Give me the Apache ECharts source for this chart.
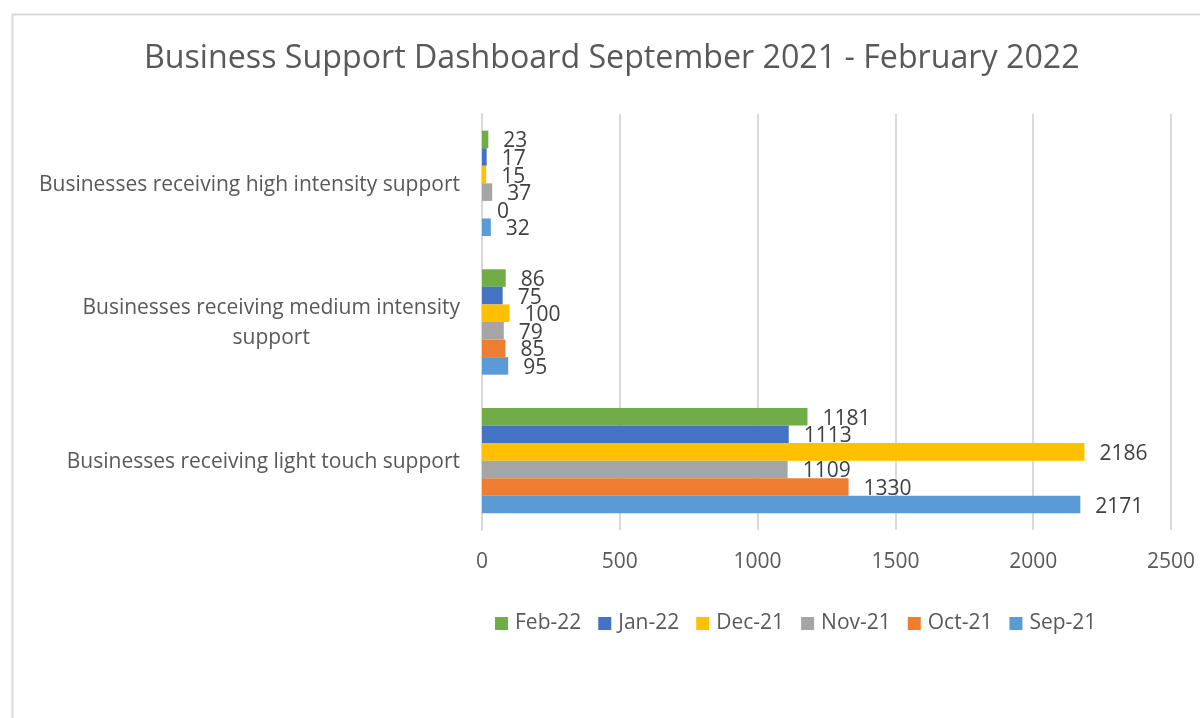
<!DOCTYPE html>
<html>
<head>
<meta charset="utf-8">
<script src="https://cdn.jsdelivr.net/npm/echarts@6/dist/echarts.min.js"></script>
<style>html,body{margin:0;padding:0;background:#fff;}#c{width:1200px;height:718px;}</style>
</head>
<body>
<div id="c"></div>
<script>
const categories = ['Businesses receiving light touch support', 'Businesses receiving medium intensity support', 'Businesses receiving high intensity support'];
const seriesNames = ['Sep-21', 'Oct-21', 'Nov-21', 'Dec-21', 'Jan-22', 'Feb-22'];
const sep21 = [2171, 95, 32];
const oct21 = [1330, 85, 0];
const nov21 = [1109, 79, 37];
const dec21 = [2186, 100, 15];
const jan22 = [1113, 75, 17];
const feb22 = [1181, 86, 23];
const xTicks = [0, 500, 1000, 1500, 2000, 2500];

const values = [sep21, oct21, nov21, dec21, jan22, feb22];
const colors = ['#5B9BD5', '#ED7D31', '#A5A5A5', '#FFC000', '#4472C4', '#70AD47'];
const FONT = 'Open Sans';
const FS = 21;

// ECharts stacks the first series at the top of each band, so feed them reversed
const order = [5, 4, 3, 2, 1, 0];

const chart = echarts.init(document.getElementById('c'), null, {renderer: 'canvas'});
chart.setOption({
  animation: false,
  backgroundColor: '#fff',
  textStyle: {fontFamily: FONT},
  graphic: [{
    type: 'rect', left: 10, top: 12, shape: {width: 1200, height: 720},
    style: {fill: 'none', stroke: '#d9d9d9', lineWidth: 2}, silent: true
  }],
  title: {
    text: 'Business Support Dashboard September 2021 - February 2022',
    left: 139, top: 38,
    textStyle: {fontFamily: FONT, fontSize: 32.2, fontWeight: 'normal', color: '#595959'}
  },
  legend: {
    data: seriesNames.slice().reverse(),
    left: 490, top: 608,
    itemWidth: 13, itemHeight: 13, itemGap: 17,
    icon: 'rect',
    textStyle: {fontFamily: FONT, fontSize: FS, color: '#595959', padding: [0, 0, 0, 2]}
  },
  grid: {left: 482, right: 29, top: 114, bottom: 188, containLabel: false},
  xAxis: {
    type: 'value', min: xTicks[0], max: xTicks[xTicks.length - 1], interval: 500,
    axisLine: {show: false}, axisTick: {show: false},
    splitLine: {lineStyle: {color: '#d9d9d9', width: 2}},
    axisLabel: {fontFamily: FONT, fontSize: FS, color: '#595959', margin: 22,
      formatter: function (v) { return String(v); }}
  },
  yAxis: {
    type: 'category', data: categories,
    axisLine: {show: true, lineStyle: {color: '#d9d9d9', width: 2}},
    axisTick: {show: false},
    axisLabel: {
      margin: 22, fontFamily: FONT, fontSize: FS, color: '#595959',
      formatter: function (v) {
        if (v.indexOf('medium') >= 0) {
          return '{c|Businesses receiving medium intensity}\n{c|support}';
        }
        return '{c|' + v + '}';
      },
      rich: {c: {align: 'center', fontFamily: FONT, fontSize: FS, color: '#595959', lineHeight: 30, padding: [3, 0, 0, 0]}}
    }
  },
  series: order.map((i) => ({
    name: seriesNames[i], type: 'bar', data: values[i],
    barGap: '0%', barCategoryGap: '24%',
    itemStyle: {color: colors[i]},
    label: {show: true, position: 'right', distance: 15, fontFamily: FONT, fontSize: FS, color: '#404040', offset: [0, 2]}
  }))
});
</script>
</body>
</html>
